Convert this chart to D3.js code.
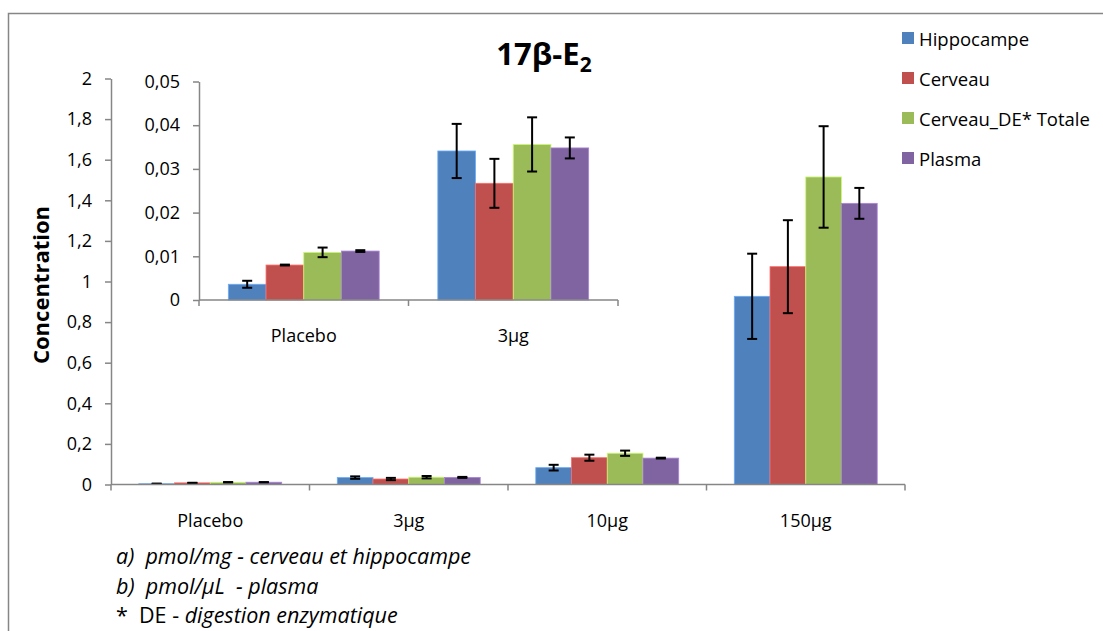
<!DOCTYPE html>
<html>
<head>
    <meta charset="utf-8">
    <script src="https://d3js.org/d3.v7.min.js"></script>
    <style>
        body { margin: 0; background: #fff; }
        text { font-family: "Open Sans", Lato, sans-serif; fill: #000; }
    </style>
</head>
<body>
    <script>
        // categories and series
        const categories = ['Placebo', '3µg', '10µg', '150µg'];
        const insetCategories = ['Placebo', '3µg'];
        const seriesNames = ['Hippocampe', 'Cerveau', 'Cerveau_DE* Totale', 'Plasma'];
        const seriesColors = ['#4F81BD', '#C0504D', '#9BBB59', '#8064A2'];

        // main chart values (mean, error)
        const hippocampe = [0.0036, 0.034, 0.083, 0.927];
        const hippocampeErr = [0.0008, 0.006, 0.014, 0.21];
        const cerveau = [0.008, 0.027, 0.132, 1.073];
        const cerveauErr = [0.0001, 0.0056, 0.015, 0.229];
        const cerveauDE = [0.0109, 0.036, 0.154, 1.515];
        const cerveauDEErr = [0.0011, 0.006, 0.013, 0.25];
        const plasma = [0.0112, 0.035, 0.13, 1.385];
        const plasmaErr = [0.0002, 0.0024, 0.002, 0.076];

        // inset values (Placebo, 3µg)
        const insetHippocampe = [0.0036, 0.0341];
        const insetHippocampeErr = [0.0008, 0.0062];
        const insetCerveau = [0.008, 0.0267];
        const insetCerveauErr = [0.0001, 0.0056];
        const insetCerveauDE = [0.0109, 0.0356];
        const insetCerveauDEErr = [0.0011, 0.0062];
        const insetPlasma = [0.0112, 0.0348];
        const insetPlasmaErr = [0.0002, 0.0024];

        // tick labels
        const yTicks = [0, 0.2, 0.4, 0.6, 0.8, 1, 1.2, 1.4, 1.6, 1.8, 2];
        const insetTicks = [0, 0.01, 0.02, 0.03, 0.04, 0.05];

        const footnotes = [
            [['a)  ', true], ['pmol/mg - cerveau et hippocampe', true]],
            [['b)  ', true], ['pmol/µL  - plasma', true]],
            [['*  ', false], ['DE - ', false], ['digestion enzymatique', true]]
        ];

        const fr = d3.formatLocale({ decimal: ',', thousands: ' ', grouping: [3], currency: ['', ''] });
        const fmt = fr.format('~g');
        const axisColor = '#868686';

        const svg = d3.select('body').append('svg')
            .attr('width', 1103)
            .attr('height', 631);

        // outer frame
        svg.append('rect')
            .attr('x', 8.5).attr('y', 13.5)
            .attr('width', 1120).attr('height', 660)
            .attr('fill', 'none')
            .attr('stroke', axisColor)
            .attr('stroke-width', 1.5);

        function buildRows(cats, vals, errs) {
            return cats.map((c, i) => ({
                cat: c,
                bars: seriesNames.map((s, j) => ({ s, color: seriesColors[j], v: vals[j][i], e: errs[j][i] }))
            }));
        }

        function drawChart(g, cats, rows, yScale, range, ticks, labelY) {
            const x0 = d3.scaleBand().domain(cats).range(range).paddingInner(0.28).paddingOuter(0.14);
            const x1 = d3.scaleBand().domain(seriesNames).range([0, x0.bandwidth()]);

            // y axis
            const yAxis = g.append('g')
                .attr('transform', `translate(${range[0]},0)`)
                .call(d3.axisLeft(yScale).tickValues(ticks).tickFormat(fmt).tickSize(6).tickSizeOuter(0).tickPadding(13));
            yAxis.select('.domain').attr('stroke', axisColor).attr('stroke-width', 1.5);
            yAxis.selectAll('.tick line').attr('stroke', axisColor).attr('stroke-width', 1.5);
            yAxis.selectAll('.tick text').attr('font-size', 18).attr('font-family', '"Open Sans"').attr('fill', '#000');

            // bars
            const grp = g.selectAll('.grp').data(rows).join('g')
                .attr('transform', d => `translate(${x0(d.cat)},0)`);
            grp.selectAll('rect').data(d => d.bars).join('rect')
                .attr('x', d => x1(d.s))
                .attr('y', d => yScale(d.v))
                .attr('width', x1.bandwidth())
                .attr('height', d => yScale(0) - yScale(d.v))
                .attr('fill', d => d.color)
                .attr('stroke', d => d3.color(d.color).brighter(0.8))
                .attr('stroke-width', 0.8);

            // error bars
            const eb = grp.selectAll('.eb').data(d => d.bars).join('g');
            eb.append('line')
                .attr('x1', d => x1(d.s) + x1.bandwidth() / 2)
                .attr('x2', d => x1(d.s) + x1.bandwidth() / 2)
                .attr('y1', d => yScale(d.v + d.e))
                .attr('y2', d => yScale(d.v - d.e))
                .attr('stroke', '#000').attr('stroke-width', 2);
            [1, -1].forEach(sign => {
                eb.append('line')
                    .attr('x1', d => x1(d.s) + x1.bandwidth() / 2 - 5)
                    .attr('x2', d => x1(d.s) + x1.bandwidth() / 2 + 5)
                    .attr('y1', d => yScale(d.v + sign * d.e))
                    .attr('y2', d => yScale(d.v + sign * d.e))
                    .attr('stroke', '#000').attr('stroke-width', 2);
            });

            // x axis line and boundary ticks
            const y0 = yScale(0);
            g.append('line')
                .attr('x1', range[0]).attr('x2', range[1])
                .attr('y1', y0).attr('y2', y0)
                .attr('stroke', axisColor).attr('stroke-width', 1.5);
            const bounds = d3.range(cats.length + 1).map(i => range[0] + i * x0.step());
            g.selectAll('.xt').data(bounds).join('line')
                .attr('x1', d => d).attr('x2', d => d)
                .attr('y1', y0).attr('y2', y0 + 6)
                .attr('stroke', axisColor).attr('stroke-width', 1.5);
            g.selectAll('.xl').data(cats).join('text')
                .attr('x', d => x0(d) + x0.bandwidth() / 2)
                .attr('y', labelY)
                .attr('text-anchor', 'middle')
                .attr('font-size', 18)
                .text(d => d);
        }

        // main chart
        const yMain = d3.scaleLinear().domain([0, 2]).range([484.5, 78.5]);
        const mainRows = buildRows(categories,
            [hippocampe, cerveau, cerveauDE, plasma],
            [hippocampeErr, cerveauErr, cerveauDEErr, plasmaErr]);
        drawChart(svg.append('g'), categories, mainRows, yMain, [111, 905], yTicks, 527);

        // inset chart
        const yInset = d3.scaleLinear().domain([0, 0.05]).range([300, 81.5]);
        const insetRows = buildRows(insetCategories,
            [insetHippocampe, insetCerveau, insetCerveauDE, insetPlasma],
            [insetHippocampeErr, insetCerveauErr, insetCerveauDEErr, insetPlasmaErr]);
        drawChart(svg.append('g'), insetCategories, insetRows, yInset, [199, 618], insetTicks, 342);

        // title
        const title = svg.append('text')
            .attr('x', 544).attr('y', 65)
            .attr('text-anchor', 'middle')
            .attr('font-size', 31)
            .attr('font-weight', 'bold');
        title.append('tspan').text('17β-E');
        title.append('tspan').attr('font-size', 21).attr('dy', 7).text('2');

        // y axis title
        svg.append('text')
            .attr('transform', 'translate(49,285) rotate(-90)')
            .attr('text-anchor', 'middle')
            .attr('font-size', 22)
            .attr('font-weight', 'bold')
            .text('Concentration');

        // legend
        const legend = svg.append('g').selectAll('g').data(seriesNames).join('g')
            .attr('transform', (d, i) => `translate(902,${32 + i * 40})`);
        legend.append('rect')
            .attr('width', 12).attr('height', 12)
            .attr('fill', (d, i) => seriesColors[i]);
        legend.append('text')
            .attr('x', 17).attr('y', 13.5)
            .attr('font-size', 18.5)
            .text(d => d);

        // footnotes
        svg.selectAll('.fn').data(footnotes).join('text')
            .attr('x', 116)
            .attr('y', (d, i) => 564 + i * 29.5)
            .attr('font-size', 21.5)
            .each(function (parts) {
                const t = d3.select(this);
                parts.forEach(p => {
                    t.append('tspan')
                        .attr('font-style', p[1] ? 'italic' : 'normal')
                        .attr('xml:space', 'preserve')
                        .text(p[0]);
                });
            });
    </script>
</body>
</html>
